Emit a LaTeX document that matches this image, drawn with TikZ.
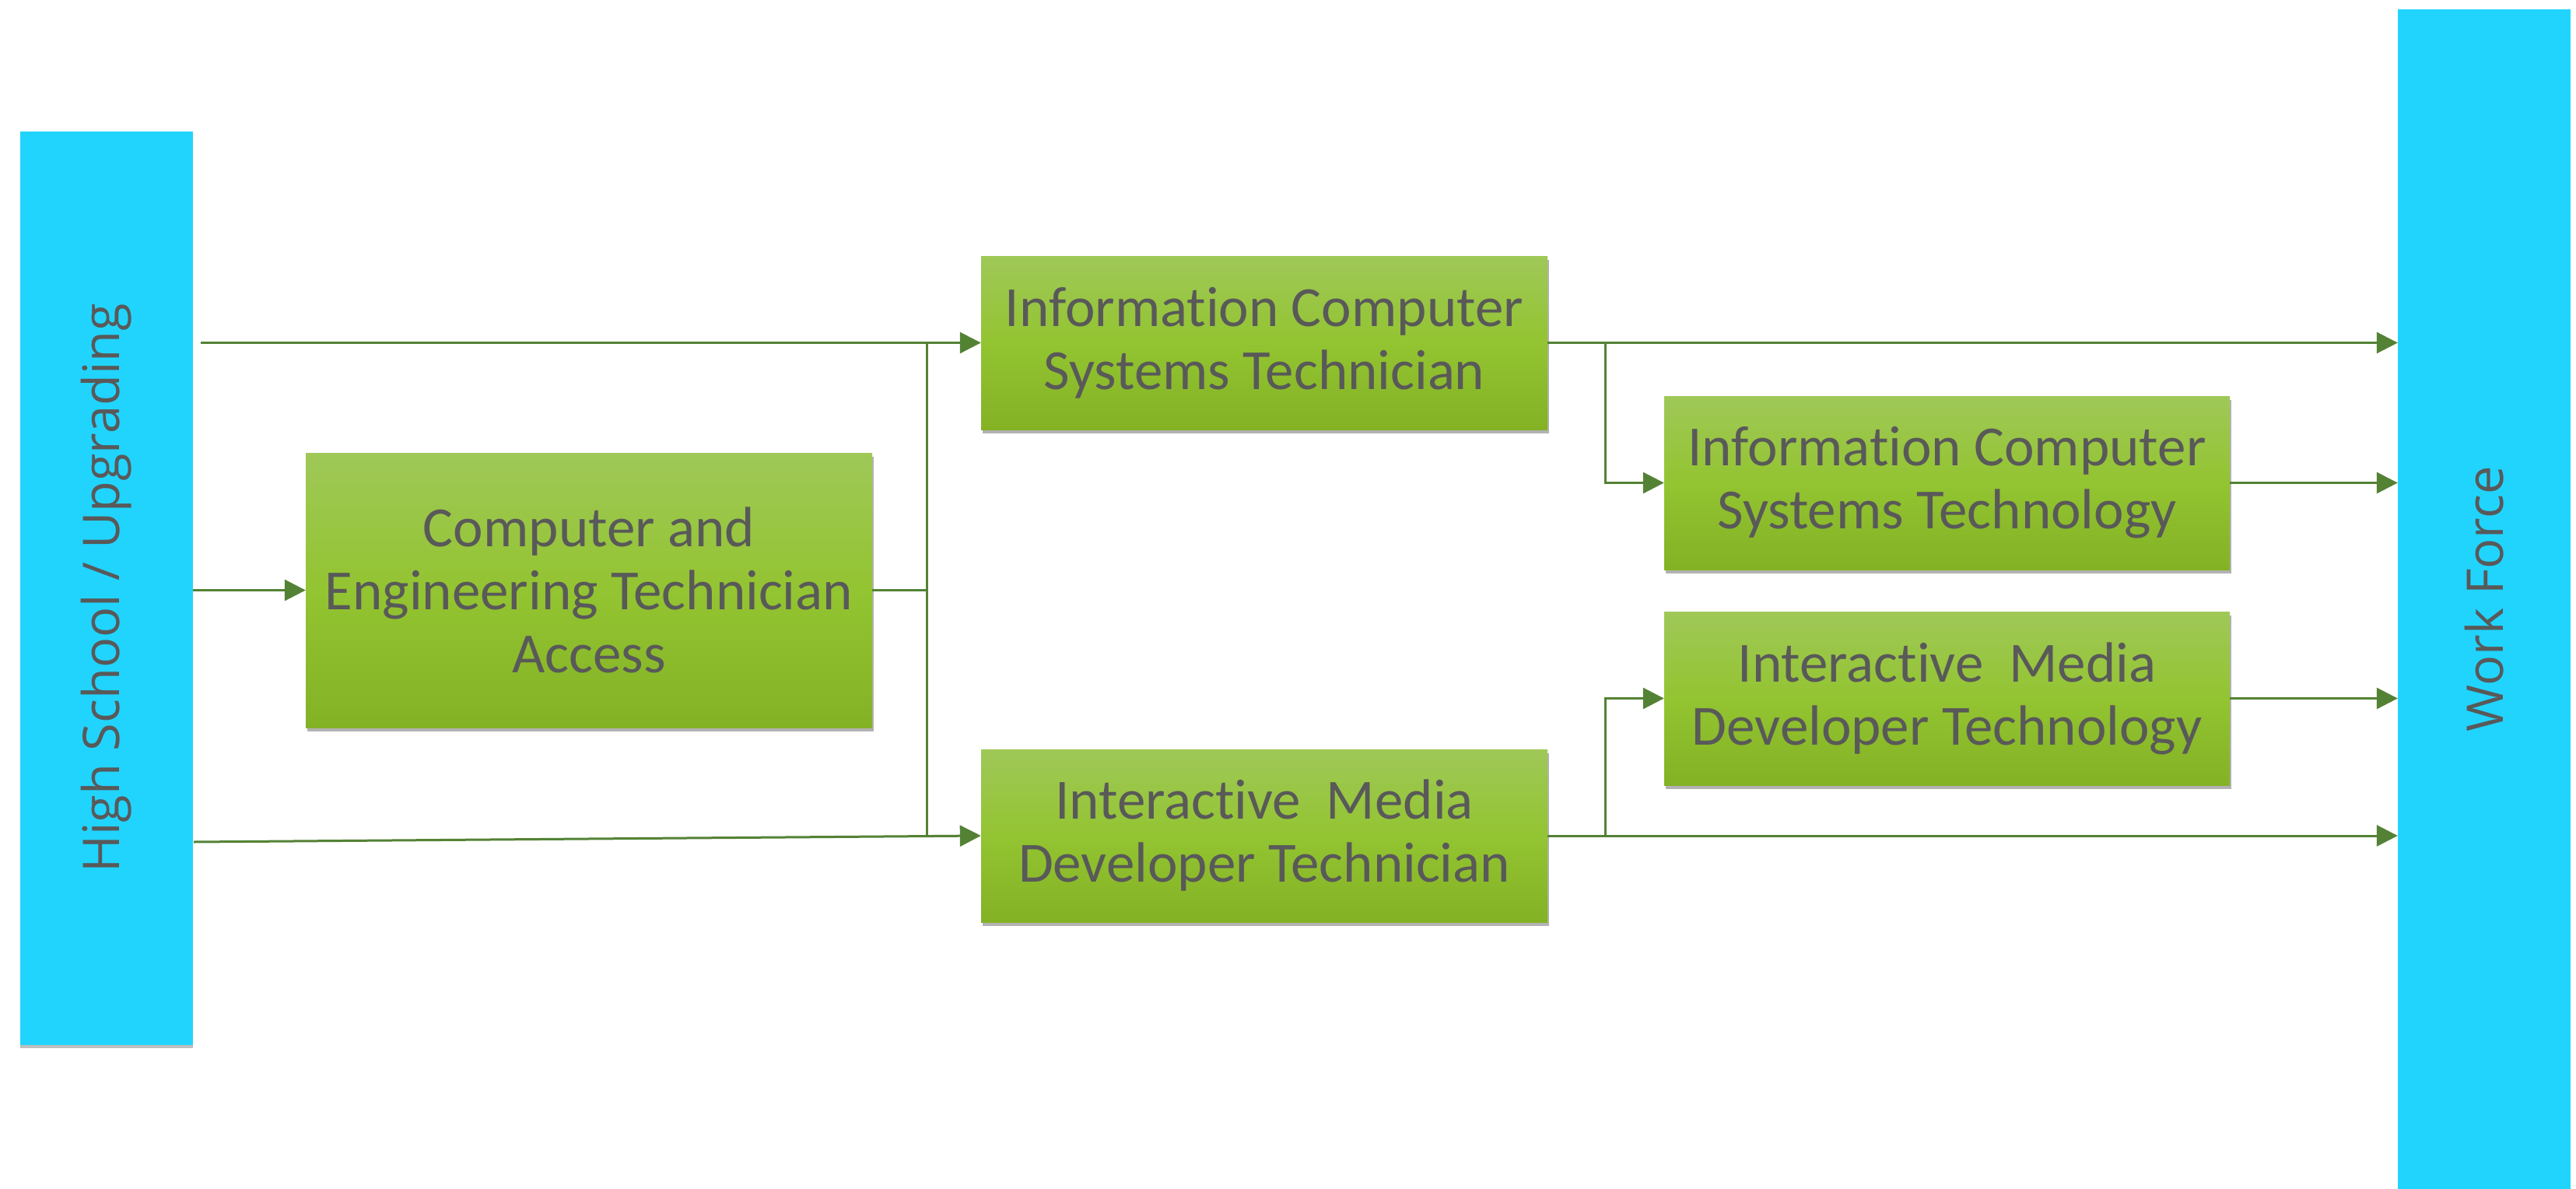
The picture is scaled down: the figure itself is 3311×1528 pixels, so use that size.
\documentclass[tikz,border=0pt]{standalone}
\usepackage{fontspec}
\setmainfont{Carlito}[RawFeature={-liga;-clig;-calt;-dlig}]
\newfontfamily\barfont{Open Sans}
\usetikzlibrary{shadows,arrows.meta}
\definecolor{barcyan}{RGB}{33,212,253}
\definecolor{boxtop}{RGB}{159,200,88}
\definecolor{boxmid}{RGB}{147,196,49}
\definecolor{boxbot}{RGB}{131,178,37}
\definecolor{txtgray}{RGB}{89,89,89}
\definecolor{linegreen}{RGB}{84,130,53}
\begin{document}
\begin{tikzpicture}[x=1pt,y=-1pt,
  barbox/.style={fill=barcyan, minimum width=222pt, inner sep=0pt, text=txtgray,
    font=\barfont\fontsize{65}{78}\selectfont,
    drop shadow={shadow xshift=0pt,shadow yshift=-4pt,opacity=0.25,fill=black}},
  gbox/.style={top color=boxtop, bottom color=boxbot, middle color=boxmid,
    minimum width=728pt, inner sep=0pt, align=center, text=txtgray,
    font=\fontsize{73}{81}\selectfont,
    drop shadow={shadow xshift=2pt,shadow yshift=-5pt,opacity=0.3,fill=black}},
  conn/.style={draw=linegreen, line width=3pt},
  arr/.style={-{Triangle[length=27pt,width=27pt]}}
]
\useasboundingbox[fill=white] (0,0) rectangle (3311,1528);
\begin{scope}
\clip (0,0) rectangle (3311,1528);
\node[barbox, minimum height=1174pt] (hs) at (137,756) {};
\node[rotate=90, text=txtgray, font=\barfont\fontsize{65}{78}\selectfont] (hst) at (137,756) {High School / Upgrading};
\node[barbox, minimum height=1516pt] (wf) at (3193,770) {};
\node[rotate=90, text=txtgray, font=\barfont\fontsize{65}{78}\selectfont] (wft) at (3193,770) {Work Force};
\end{scope}

\node[gbox, minimum height=353pt] (ceta) at (757,758.5) {Computer and\\Engineering Technician\\Access};
\node[gbox, minimum height=223pt] (icst) at (1625,440.5) {Information Computer\\Systems Technician};
\node[gbox, minimum height=222pt] (imdt) at (1625,1074) {Interactive\ \ Media\\Developer Technician};
\node[gbox, minimum height=223pt, minimum width=727pt] (icstech) at (2502.5,620.5) {Information Computer\\Systems Technology};
\node[gbox, minimum height=223pt, minimum width=727pt] (imdtech) at (2502.5,897.5) {Interactive\ \ Media\\Developer Technology};

\coordinate (hsA) at (258,440.5);
\coordinate (hsC) at (249,1082);
\coordinate (jL) at (1191,758.5);
\coordinate (jR) at (2063,440.5);

\draw[conn,arr] (hsA) -- (icst.west);
\draw[conn,arr] (hs.east |- ceta.west) -- (ceta.west);
\draw[conn,arr] (hsC) -- (imdt.west);
\draw[conn] (ceta.east) -- (jL);
\draw[conn] (jL |- icst.west) -- (jL |- imdt.west);
\draw[conn,arr] (icst.east) -- (icst.east -| wf.west);
\draw[conn,arr] (jR) |- (icstech.west);
\draw[conn,arr] (icstech.east) -- (icstech.east -| wf.west);
\draw[conn,arr] (imdtech.east) -- (imdtech.east -| wf.west);
\draw[conn,arr] (imdt.east) -- (imdt.east -| wf.west);
\draw[conn,arr] (jR |- imdt.east) |- (imdtech.west);
\end{tikzpicture}
\end{document}
